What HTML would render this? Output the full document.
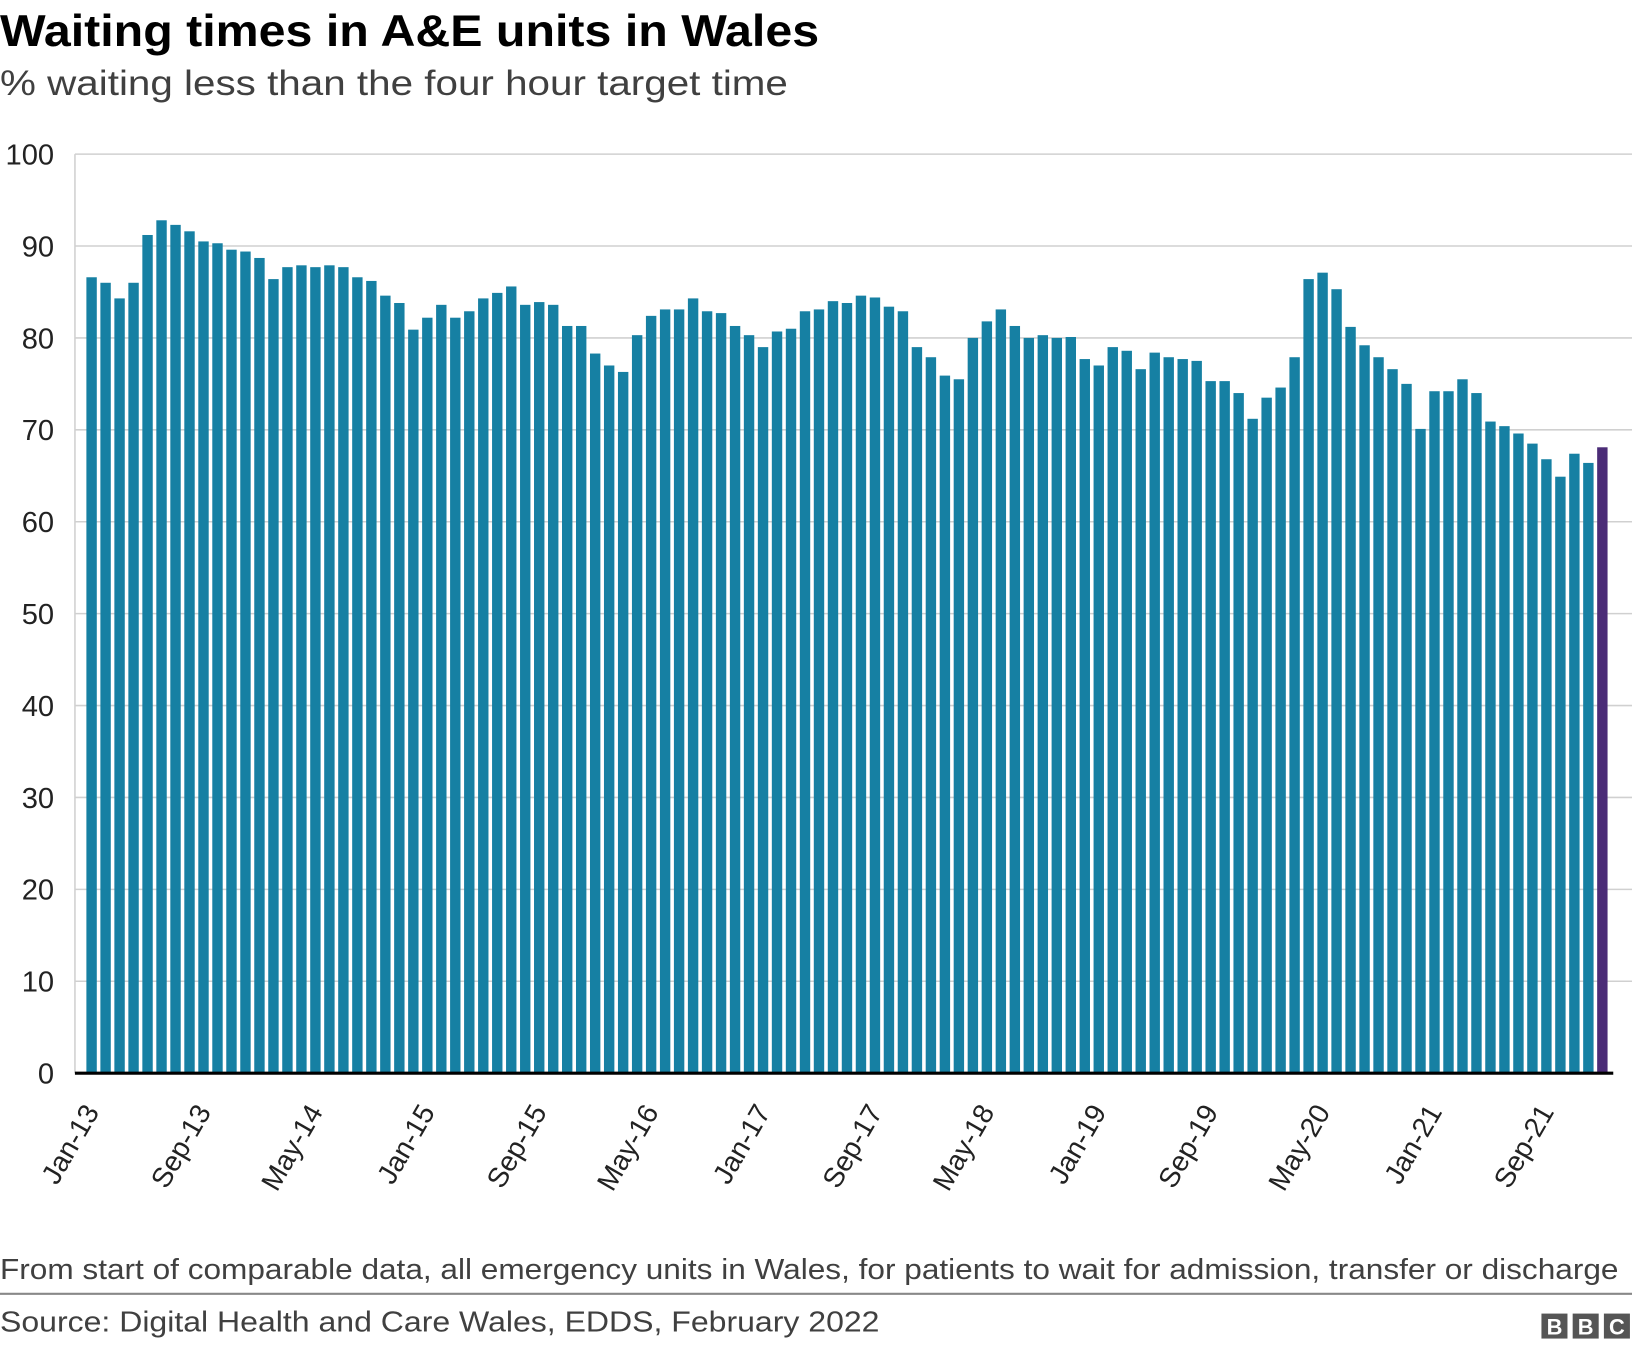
<!DOCTYPE html>
<html><head><meta charset="utf-8"><style>
html,body{margin:0;padding:0;background:#fff;}
svg{display:block;font-family:"Liberation Sans",Arial,sans-serif;}
</style></head><body>
<svg id="chart" width="1632" height="1348" viewBox="0 0 1568 1295" xmlns="http://www.w3.org/2000/svg">
<text x="0" y="44" font-size="43" font-weight="bold" fill="#000" textLength="787" lengthAdjust="spacingAndGlyphs">Waiting times in A&amp;E units in Wales</text>
<text x="0" y="91" font-size="34" fill="#404040" textLength="757" lengthAdjust="spacingAndGlyphs">% waiting less than the four hour target time</text>
<g id="grid"></g>
<g id="yticks"></g>
<g id="bars"></g>
<line x1="72" x2="1550" y1="1031" y2="1031" stroke="#000" stroke-width="3"/>
<g id="xticks"></g>
<text x="0" y="1229" font-size="28" fill="#404040" textLength="1555" lengthAdjust="spacingAndGlyphs">From start of comparable data, all emergency units in Wales, for patients to wait for admission, transfer or discharge</text>
<line x1="0" x2="1568" y1="1243" y2="1243" stroke="#888" stroke-width="2"/>
<text x="0" y="1279" font-size="28" fill="#404040" textLength="845" lengthAdjust="spacingAndGlyphs">Source: Digital Health and Care Wales, EDDS, February 2022</text>
<g>
<rect x="1481" y="1262" width="25" height="24" fill="#555"/><rect x="1511" y="1262" width="25" height="24" fill="#555"/><rect x="1541" y="1262" width="25" height="24" fill="#555"/>
<text x="1493.5" y="1282" font-size="21" font-weight="bold" fill="#fff" text-anchor="middle">B</text>
<text x="1523.5" y="1282" font-size="21" font-weight="bold" fill="#fff" text-anchor="middle">B</text>
<text x="1553.5" y="1282" font-size="21" font-weight="bold" fill="#fff" text-anchor="middle">C</text>
</g>
</svg>
<script>
const yTicks=[0,10,20,30,40,50,60,70,80,90,100];
const xLabels=["Jan-13","Sep-13","May-14","Jan-15","Sep-15","May-16","Jan-17","Sep-17","May-18","Jan-19","Sep-19","May-20","Jan-21","Sep-21"];
const values2013=[86.6,86.0,84.3,86.0,91.2,92.8,92.3,91.6,90.5,90.3,89.6,89.4];
const values2014=[88.7,86.4,87.7,87.9,87.7,87.9,87.7,86.6,86.2,84.6,83.8,80.9];
const values2015=[82.2,83.6,82.2,82.9,84.3,84.9,85.6,83.6,83.9,83.6,81.3,81.3];
const values2016=[78.3,77.0,76.3,80.3,82.4,83.1,83.1,84.3,82.9,82.7,81.3,80.3];
const values2017=[79.0,80.7,81.0,82.9,83.1,84.0,83.8,84.6,84.4,83.4,82.9,79.0];
const values2018=[77.9,75.9,75.5,80.0,81.8,83.1,81.3,80.0,80.3,80.0,80.1,77.7];
const values2019=[77.0,79.0,78.6,76.6,78.4,77.9,77.7,77.5,75.3,75.3,74.0,71.2];
const values2020=[73.5,74.6,77.9,86.4,87.1,85.3,81.2,79.2,77.9,76.6,75.0,70.1];
const values2021=[74.2,74.2,75.5,74.0,70.9,70.4,69.6,68.5,66.8,64.9,67.4,66.4];
const values2022=[68.1];
const values=[].concat(values2013,values2014,values2015,values2016,values2017,values2018,values2019,values2020,values2021,values2022);
const NS="http://www.w3.org/2000/svg";
const x0=88, step=13.44, barW=10, yBase=1031, yTop=148;
function xPos(i){return x0+i*step;}
function yPos(v){return yBase-(v/100)*(yBase-yTop);}
const grid=document.getElementById('grid'), yt=document.getElementById('yticks');
yTicks.forEach(t=>{
  if(t>0){const l=document.createElementNS(NS,'line');
  
  
  l.setAttribute('x1',72);l.setAttribute('x2',1568);l.setAttribute('y1',yPos(t));l.setAttribute('y2',yPos(t));
  l.setAttribute('stroke','#d0d0d0');l.setAttribute('stroke-width','1.5');grid.appendChild(l);}
  const tx=document.createElementNS(NS,'text');
  
  
  tx.setAttribute('x',52);tx.setAttribute('y',yPos(t)+10);tx.setAttribute('text-anchor','end');
  tx.setAttribute('font-size','28');tx.setAttribute('fill','#222');tx.textContent=t;yt.appendChild(tx);
});
const gl=document.createElementNS(NS,'line');


gl.setAttribute('x1',72);gl.setAttribute('x2',72);gl.setAttribute('y1',yTop);gl.setAttribute('y2',yBase);
gl.setAttribute('stroke','#d0d0d0');gl.setAttribute('stroke-width','1.5');grid.appendChild(gl);
const bars=document.getElementById('bars');
values.forEach((v,i)=>{
  const r=document.createElementNS(NS,'rect');
  
  
  r.setAttribute('x',xPos(i)-barW/2);r.setAttribute('width',barW);
  r.setAttribute('y',yPos(v));r.setAttribute('height',yBase-yPos(v));
  r.setAttribute('fill',i===values.length-1?'#4b2c77':'#1680a3');bars.appendChild(r);
});
const xt=document.getElementById('xticks');
xLabels.forEach((lab,k)=>{
  const i=k*8, cx=xPos(i)+8, cy=1068;
  const tx=document.createElementNS(NS,'text');
  
  
  tx.setAttribute('x',cx);tx.setAttribute('y',cy);tx.setAttribute('text-anchor','end');
  tx.setAttribute('font-size','27');tx.setAttribute('fill','#222');
  tx.setAttribute('transform','rotate(-60 '+cx+' '+cy+')');tx.textContent=lab;xt.appendChild(tx);
});
</script>
</body></html>
